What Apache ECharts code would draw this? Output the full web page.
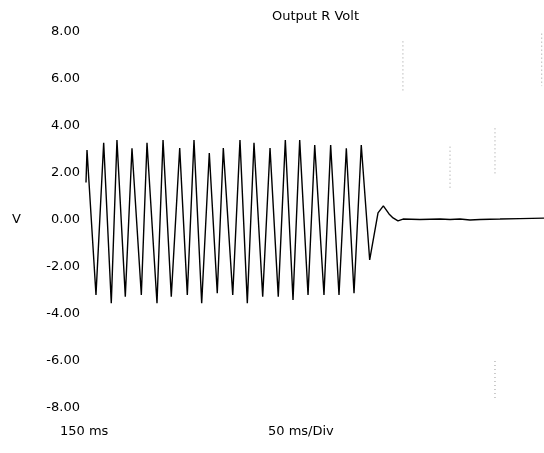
<!DOCTYPE html>
<html>
<head lang="en">
    <meta charset="UTF-8">
    <title>Output R Volt</title>
</head>
<body style="margin:0">
<div id="container" style="height:453px;width:544px"></div>
<script type="text/javascript" src="https://cdn.jsdelivr.net/npm/echarts@6/dist/echarts.min.js"></script>
<script type="text/javascript">
    // time in ms (screen starts at 150 ms, 50 ms/div, 10 div)
    var timeMs = [150, 151.1, 160.9, 169.3, 177.6, 183.8, 192.9, 200.2, 210.4, 216.6, 227.5,
        234.1, 243.1, 252.3, 260.6, 267.9, 276.3, 284.6, 293.3, 299.9, 310.2,
        318.1, 326.1, 333.4, 342.9, 350.9, 359.9, 367.6, 376.0, 383.3, 392.4,
        399.7, 409.8, 417.1, 426.2, 434.2, 442.6, 450.5, 459.7, 468.8, 474.6,
        480.8, 485.2, 490.6, 496.1, 514.6, 536.5, 547.4, 558.3, 569.2, 580.1,
        602.0, 623.8, 650];
    var volts = [1.6, 2.98, -3.19, 3.29, -3.54, 3.40, -3.26, 3.05, -3.19, 3.29, -3.54,
        3.40, -3.26, 3.06, -3.19, 3.40, -3.54, 2.85, -3.12, 3.06, -3.19,
        3.40, -3.54, 3.29, -3.26, 3.06, -3.26, 3.40, -3.40, 3.40, -3.19,
        3.19, -3.19, 3.19, -3.19, 3.05, -3.12, 3.19, -1.70, 0.30, 0.60,
        0.26, 0.09, -0.04, 0.04, 0.02, 0.04, 0.02, 0.04, 0.00, 0.02,
        0.04, 0.06, 0.08];

    // faint dotted specks left on the screen (time, top, bottom)
    var speckTime = [547.4, 596.5, 647.5, 596.5, 496.0];
    var speckTop = [3.12, 3.9, 8.1, -6.0, 7.6];
    var speckBottom = [1.35, 1.9, 5.7, -7.7, 5.4];

    var yTicks = [-8, -6, -4, -2, 0, 2, 4, 6, 8];

    var dom = document.getElementById("container");
    var myChart = echarts.init(dom);

    var wave = timeMs.map(function (t, i) {
        return [t, volts[i]];
    });

    var specks = [];
    speckTime.forEach(function (t, i) {
        specks.push({
            type: 'line',
            data: [[t, speckTop[i]], [t, speckBottom[i]]],
            symbol: 'none',
            silent: true,
            lineStyle: {color: '#999', width: 1, type: [1, 3]}
        });
    });

    var option = {
        backgroundColor: '#fff',
        animation: false,
        textStyle: {fontFamily: 'DejaVu Sans'},
        title: {
            text: 'Output R Volt',
            left: 267,
            top: 5,
            textStyle: {fontSize: 13, fontWeight: 'normal', color: '#000', fontFamily: 'DejaVu Sans'}
        },
        grid: {left: 86, right: 0, top: 32, bottom: 45},
        xAxis: {
            type: 'value',
            min: 150,
            max: 650,
            show: false
        },
        yAxis: {
            type: 'value',
            min: yTicks[0],
            max: yTicks[yTicks.length - 1],
            interval: 2,
            name: 'V',
            nameLocation: 'middle',
            nameRotate: 0,
            nameGap: 65,
            nameTextStyle: {fontSize: 13, color: '#000'},
            axisLine: {show: false},
            axisTick: {show: false},
            splitLine: {show: false},
            axisLabel: {
                margin: 6,
                fontSize: 13,
                color: '#000',
                formatter: function (v) {
                    return v.toFixed(2);
                }
            }
        },
        graphic: [
            {type: 'text', left: 60, top: 425, style: {text: '150 ms', fontSize: 13, fill: '#000', fontFamily: 'DejaVu Sans'}},
            {type: 'text', left: 268, top: 425, style: {text: '50 ms/Div', fontSize: 13, fill: '#000', fontFamily: 'DejaVu Sans'}}
        ],
        series: [{
            type: 'line',
            data: wave,
            symbol: 'none',
            lineStyle: {color: '#000', width: 1.4}
        }].concat(specks)
    };
    myChart.setOption(option);
</script>
</body>
</html>
